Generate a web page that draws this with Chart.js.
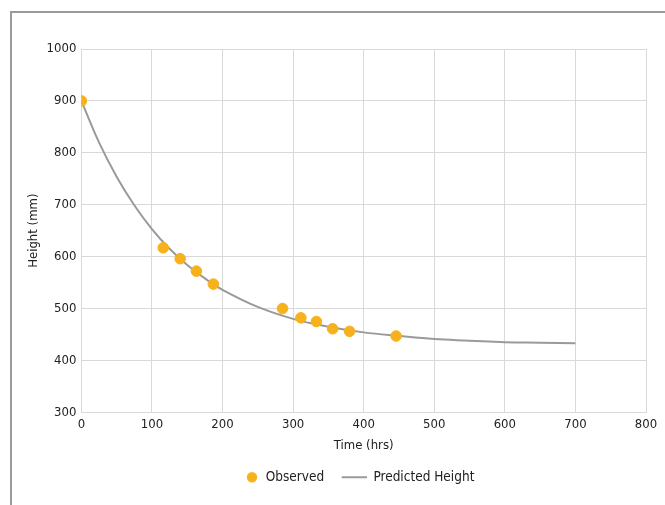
<!DOCTYPE html>
<html>
<head>
<meta charset="utf-8">
<script src="https://cdn.jsdelivr.net/npm/chart.js@4"></script>
<style>
    body { margin: 0; background: #fff; }
    #wrap { position: relative; width: 665px; height: 505px; }
    #frame {
        position: absolute; left: 10px; top: 11px; right: 0; bottom: 0;
        border-top: 2px solid #9a9a9a; border-left: 2px solid #9a9a9a;
    }
    canvas { position: absolute; left: 0; top: 0; }
</style>
</head>
<body>
<div id="wrap">
    <div id="frame"></div>
    <canvas id="chart" width="665" height="505"></canvas>
</div>
<script>
const obsTime = [0, 116, 140, 163, 187, 285, 311, 333, 356, 380, 446];
const obsHeight = [900, 617, 596, 572, 547, 500, 482, 475, 461, 456, 447];

const predTime = [0, 25, 50, 75, 100, 125, 150, 175, 200, 250, 300, 350, 400, 450, 500, 550, 600, 650, 700];
const predHeight = [900, 820, 754, 699, 653, 615, 584, 558, 536, 503, 480, 465, 454, 447, 441, 438, 435, 434, 433];

const xTicks = [0, 100, 200, 300, 400, 500, 600, 700, 800];
const yTicks = [300, 400, 500, 600, 700, 800, 900, 1000];

const orange = "#f7b11c";
const grey = "#9a9a9a";

const font = "'DejaVu Sans Condensed', 'Liberation Sans Narrow', Roboto, sans-serif";
Chart.defaults.font.family = font;
Chart.defaults.color = "#222";

// legend swatches, both 26 wide so the text sits right
function swatch(drawFn) {
    const c = document.createElement("canvas");
    c.width = 26;
    c.height = 12;
    drawFn(c.getContext("2d"));
    return c;
}
const dotSwatch = swatch((g) => {
    g.fillStyle = orange;
    g.beginPath();
    g.arc(19, 6, 5.2, 0, Math.PI * 2);
    g.fill();
});
const lineSwatch = swatch((g) => {
    g.strokeStyle = grey;
    g.lineWidth = 2;
    g.beginPath();
    g.moveTo(1, 6);
    g.lineTo(26, 6);
    g.stroke();
});

// legend sits roughly under the plot area, not the whole canvas
const legendUnderPlot = {
    id: "legendUnderPlot",
    afterLayout(chart) {
        const lg = chart.legend;
        lg.left = chart.chartArea.left - 10;
        lg.right = chart.chartArea.right - 10;
        lg.width = lg.right - lg.left;
    },
};

const ctx = document.getElementById("chart").getContext("2d");
new Chart(ctx, {
    type: "scatter",
    data: {
        datasets: [
            {
                label: "Observed",
                data: obsTime.map((t, i) => ({ x: t, y: obsHeight[i] })),
                backgroundColor: orange,
                borderColor: orange,
                pointRadius: 5.3,
                pointStyle: "circle",
                order: 1,
            },
            {
                type: "line",
                label: "Predicted Height",
                data: predTime.map((t, i) => ({ x: t, y: predHeight[i] })),
                borderColor: grey,
                backgroundColor: grey,
                borderWidth: 2,
                pointRadius: 0,
                tension: 0.4,
                fill: false,
                order: 2,
            },
        ],
    },
    plugins: [legendUnderPlot],
    options: {
        responsive: false,
        animation: false,
        layout: { padding: { left: 22, right: 19, top: 49, bottom: 11 } },
        plugins: {
            legend: {
                position: "bottom",
                labels: {
                    usePointStyle: true,
                    pointStyleWidth: 26,
                    boxHeight: 10,
                    padding: 16.5,
                    font: { size: 13.5 },
                    generateLabels: (chart) => {
                        const items = Chart.defaults.plugins.legend.labels.generateLabels(chart);
                        items[0].pointStyle = dotSwatch;
                        items[1].pointStyle = lineSwatch;
                        return items;
                    },
                },
            },
            tooltip: { enabled: false },
        },
        scales: {
            x: {
                type: "linear",
                min: 0,
                max: 800,
                afterBuildTicks: (s) => { s.ticks = xTicks.map((v) => ({ value: v })); },
                grid: { color: "#d9d9d9", drawTicks: false },
                border: { color: "#d9d9d9" },
                ticks: { padding: 5, font: { size: 13 }, callback: (v) => String(v) },
                title: { display: true, text: "Time (hrs)", font: { size: 13 }, padding: { top: 0, bottom: 0.5 } },
            },
            y: {
                min: 300,
                max: 1000,
                afterBuildTicks: (s) => { s.ticks = yTicks.map((v) => ({ value: v })); },
                grid: { color: "#d9d9d9", drawTicks: false },
                border: { color: "#d9d9d9" },
                ticks: { padding: 5, font: { size: 13 }, callback: (v) => String(v) },
                title: { display: true, text: "Height (mm)", font: { size: 13 }, padding: { top: 4, bottom: 0 } },
            },
        },
    },
});
</script>
</body>
</html>
